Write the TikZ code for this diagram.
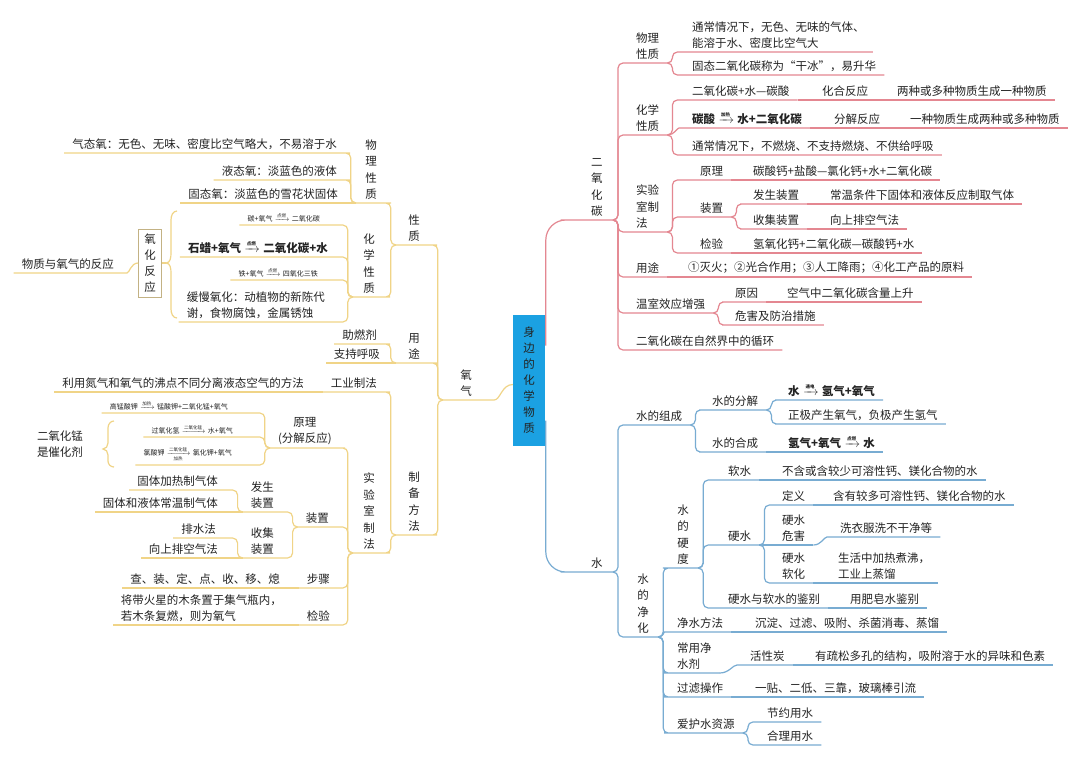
\documentclass[tikz,border=0pt]{standalone}
\usepackage{amsmath}
\usepackage{fontspec}
\setmainfont{Noto Sans CJK SC}
\usepackage{xcolor}
\definecolor{RootBlue}{RGB}{27,161,226}
\definecolor{OxyLine}{RGB}{240,212,135}
\definecolor{CoLine}{RGB}{228,135,145}
\definecolor{WaterLine}{RGB}{120,172,210}
\definecolor{InkGray}{RGB}{35,35,35}
\newcommand{\condfont}{\fontsize{4.5}{4.5}\selectfont}
\newcommand{\cond}[1]{$\;\xrightarrow{\text{\condfont #1}}\;$}
\newcommand{\condd}[2]{$\;\xrightarrow[\text{\condfont #2}]{\text{\condfont #1}}\;$}

\begin{document}
\begin{tikzpicture}[
x=1pt,y=-1pt,
topic/.style={inner xsep=8pt,inner ysep=3pt,text=InkGray,
font=\fontsize{11.5}{16.5}\selectfont},
rtopic/.style={topic,anchor=south west,align=left},
ltopic/.style={topic,anchor=south east,align=left},
vtopic/.style={topic,anchor=south,align=center,inner xsep=0pt},
smalleq/.style={font=\fontsize{7}{8}\selectfont},
boldeq/.style={font=\fontsize{11.5}{14}\selectfont\bfseries},
rootbox/.style={fill=RootBlue,minimum width=32pt,minimum height=131pt,inner sep=0pt,
align=center,text=InkGray,font=\fontsize{11.5}{16}\selectfont},
sumbox/.style={draw=OxyLine!60!gray,line width=0.6pt,minimum width=23pt,minimum height=68pt,
inner sep=1pt,align=center,text=InkGray,font=\fontsize{11.5}{16}\selectfont},
oxyline/.style={draw=OxyLine,line width=1.2pt,rounded corners=5pt},
co2line/.style={draw=CoLine,line width=1.2pt,rounded corners=5pt},
h2oline/.style={draw=WaterLine,line width=1.2pt,rounded corners=5pt}
]
\useasboundingbox[fill=white] (0,0) rectangle (1080,761);

\node[rootbox] (root) at (529,380.5) {身\\边\\的\\化\\学\\物\\质};

% oxygen
\node[vtopic,minimum width=46pt] (oxy) at (466,400) {氧\\气};
\node[vtopic,minimum width=36pt] (oprop) at (414,245) {性\\质};
\node[vtopic,minimum width=36pt] (ouse) at (414,363) {用\\途};
\node[vtopic,minimum width=36pt] (omake) at (414,535) {制\\备\\方\\法};
\node[vtopic,minimum width=30pt] (ophys) at (371,203) {物\\理\\性\\质};
\node[vtopic,minimum width=32pt] (ochem) at (369,297) {化\\学\\性\\质};
\node[ltopic] (ogas) at (345,153) {气态氧：无色、无味、密度比空气略大，不易溶于水};
\node[ltopic] (oliq) at (345,180) {液态氧：淡蓝色的液体};
\node[ltopic] (osol) at (346,203) {固态氧：淡蓝色的雪花状固体};
\node[ltopic,smalleq] (ceq) at (328,225) {碳+氧气\cond{点燃}二氧化碳};
\node[ltopic,boldeq] (weq) at (336,257) {石蜡+氧气\cond{点燃}二氧化碳+水};
\node[ltopic,smalleq] (feq) at (326,280) {铁+氧气\cond{点燃}四氧化三铁};
\node[ltopic] (slow) at (333,322) {缓慢氧化：动植物的新陈代\\谢，食物腐蚀，金属锈蚀};
\node[sumbox] (oxid) at (150,263) {氧\\化\\反\\应};
\node[ltopic] (oreact) at (122,273) {物质与氧气的反应};
\node[ltopic] (ofuel) at (385,344) {助燃剂};
\node[ltopic] (obreath) at (388,363) {支持呼吸};
\node[ltopic] (oind) at (385,392) {工业制法};
\node[ltopic] (oair) at (312,392) {利用氮气和氧气的沸点不同分离液态空气的方法};
\node[vtopic,minimum width=32pt] (olab) at (369,553) {实\\验\\室\\制\\法};
\node[ltopic,align=center] (oprin) at (340,448) {原理\\(分解反应)};
\node[ltopic,smalleq] (kmno) at (236,413) {高锰酸钾\cond{加热}锰酸钾+二氧化锰+氧气};
\node[ltopic,smalleq] (hoo) at (241,437) {过氧化氢\cond{二氧化锰}水+氧气};
\node[ltopic,smalleq] (kclo) at (240,465) {氯酸钾\condd{二氧化锰}{加热}氯化钾+氧气};
\node[topic,align=left] (mno) at (60,444) {二氧化锰\\是催化剂};
\node[ltopic] (odev) at (337,527) {装置};
\node[ltopic,align=center] (ogen) at (282,512) {发生\\装置};
\node[ltopic] (oheat) at (226,490) {固体加热制气体};
\node[ltopic] (oroom) at (226,512) {固体和液体常温制气体};
\node[ltopic,align=center] (ocol) at (282,558) {收集\\装置};
\node[ltopic] (owater) at (224,538) {排水法};
\node[ltopic] (oup) at (226,558) {向上排空气法};
\node[ltopic] (ostep) at (338,588) {步骤};
\node[ltopic] (osteps) at (288,588) {查、装、定、点、收、移、熄};
\node[ltopic] (otest) at (338,625) {检验};
\node[ltopic] (otests) at (290,625) {将带火星的木条置于集气瓶内，\\若木条复燃，则为氧气};

\draw[oxyline] ([yshift=-4pt]root.west) to[out=180,in=0] (oxy.south east) -- (oxy.south west);
\draw[oxyline] (oxy.south west) -- ++(-5,0) |- (oprop.south east) -- (oprop.south west);
\draw[oxyline] (oxy.south west) -- ++(-5,0) |- (ouse.south east) -- (ouse.south west);
\draw[oxyline] (oxy.south west) -- ++(-5,0) |- (omake.south east) -- (omake.south west);
\draw[oxyline] (oprop.south west) -- ++(-5,0) |- (ophys.south east) -- (ophys.south west);
\draw[oxyline] (oprop.south west) -- ++(-5,0) |- (ochem.south east) -- (ochem.south west);
\draw[oxyline] (ophys.south west) -- ++(-5,0) |- (ogas.south east) -- (ogas.south west);
\draw[oxyline] (ophys.south west) -- ++(-5,0) |- (oliq.south east) -- (oliq.south west);
\draw[oxyline] (ophys.south west) -- (osol.south west);
\draw[oxyline] (ochem.south west) -- ++(-5,0) |- (ceq.south east) -- (ceq.south west);
\draw[oxyline] (ochem.south west) -- ++(-5,0) |- (weq.south east) -- (weq.south west);
\draw[oxyline] (ochem.south west) -- ++(-5,0) |- (feq.south east) -- (feq.south west);
\draw[oxyline] (ochem.south west) -- ++(-5,0) |- (slow.south east) -- (slow.south west);
\draw[oxyline,sharp corners] (177,211) to[out=180,in=90] (171,220) -- (171,253)
  to[out=-90,in=0] (166,263) coordinate (bracea) to[out=0,in=90] (171,273) -- (171,309)
  to[out=-90,in=180] (177,318);
\draw[oxyline] (bracea) -- (oxid.east);
\draw[oxyline] (oxid.west) to[out=180,in=0] (oreact.south east) -- (oreact.south west);
\draw[oxyline] (ouse.south west) -- ++(-5,0) |- (ofuel.south east) -- (ofuel.south west);
\draw[oxyline] (ouse.south west) -- (obreath.south west);
\draw[oxyline] (omake.south west) -- ++(-5,0) |- (oind.south east) -- (oind.south west);
\draw[oxyline] (oind.south west) -- (oair.south west);
\draw[oxyline] (omake.south west) -- ++(-5,0) |- (olab.south east) -- (olab.south west);
\draw[oxyline] (olab.south west) -- ++(-5,0) |- (oprin.south east) -- (oprin.south west);
\draw[oxyline] (oprin.south west) -- ++(-5,0) |- (kmno.south east) -- (kmno.south west);
\draw[oxyline] (oprin.south west) -- ++(-5,0) |- (hoo.south east) -- (hoo.south west);
\draw[oxyline] (oprin.south west) -- ++(-5,0) |- (kclo.south east) -- (kclo.south west);
\draw[oxyline,sharp corners] (114,421) to[out=180,in=90] (108,428) -- (108,443)
  to[out=-90,in=0] (103,449) to[out=0,in=90] (108,455) -- (108,461)
  to[out=-90,in=180] (114,467);
\draw[oxyline] (olab.south west) -- ++(-5,0) |- (odev.south east) -- (odev.south west);
\draw[oxyline] (odev.south west) -- ++(-5,0) |- (ogen.south east) -- (ogen.south west);
\draw[oxyline] (ogen.south west) -- ++(-5,0) |- (oheat.south east) -- (oheat.south west);
\draw[oxyline] (ogen.south west) -- (oroom.south west);
\draw[oxyline] (odev.south west) -- ++(-5,0) |- (ocol.south east) -- (ocol.south west);
\draw[oxyline] (ocol.south west) -- ++(-5,0) |- (owater.south east) -- (owater.south west);
\draw[oxyline] (ocol.south west) -- (oup.south west);
\draw[oxyline] (olab.south west) -- ++(-5,0) |- (ostep.south east) -- (ostep.south west);
\draw[oxyline] (ostep.south west) -- (osteps.south west);
\draw[oxyline] (olab.south west) -- ++(-5,0) |- (otest.south east) -- (otest.south west);
\draw[oxyline] (otest.south west) -- (otests.south west);

% carbon dioxide
\node[vtopic,anchor=south east,minimum width=32pt] (co2) at (613,220) {二\\氧\\化\\碳};
\node[rtopic] (cphys) at (628,63) {物理\\性质};
\node[rtopic] (cphys1) at (684,52) {通常情况下，无色、无味的气体、\\能溶于水、密度比空气大};
\node[rtopic] (cphys2) at (684,75) {固态二氧化碳称为“干冰”，易升华};
\node[rtopic] (cchem) at (628,135) {化学\\性质};
\node[rtopic] (cacid) at (684,100) {二氧化碳+水—碳酸};
\node[rtopic] (ccomb) at (814,100) {化合反应};
\node[rtopic] (ccomb1) at (889,100) {两种或多种物质生成一种物质};
\node[rtopic,boldeq] (cdec) at (684,128) {碳酸\cond{加热}水+二氧化碳};
\node[rtopic] (cdecm) at (826,128) {分解反应};
\node[rtopic] (cdecm1) at (902,128) {一种物质生成两种或多种物质};
\node[rtopic] (cnot) at (684,155) {通常情况下，不燃烧、不支持燃烧、不供给呼吸};
\node[rtopic] (clab) at (628,232) {实验\\室制\\法};
\node[rtopic] (cprin) at (692,180) {原理};
\node[rtopic] (cprin1) at (745,180) {碳酸钙+盐酸—氯化钙+水+二氧化碳};
\node[rtopic] (cdev) at (692,217) {装置};
\node[rtopic] (cgen) at (745,204) {发生装置};
\node[rtopic] (cgen1) at (822,204) {常温条件下固体和液体反应制取气体};
\node[rtopic] (ccol) at (745,229) {收集装置};
\node[rtopic] (ccol1) at (822,229) {向上排空气法};
\node[rtopic] (ctest) at (692,253) {检验};
\node[rtopic] (ctest1) at (745,253) {氢氧化钙+二氧化碳—碳酸钙+水};
\node[rtopic] (cuse) at (628,277) {用途};
\node[rtopic] (cuse1) at (680,277) {①灭火；②光合作用；③人工降雨；④化工产品的原料};
\node[rtopic] (cgreen) at (628,313) {温室效应增强};
\node[rtopic] (ccause) at (727,302) {原因};
\node[rtopic] (ccause1) at (779,302) {空气中二氧化碳含量上升};
\node[rtopic] (charm) at (727,325) {危害及防治措施};
\node[rtopic] (ccycle) at (628,350) {二氧化碳在自然界中的循环};

\draw[co2line,rounded corners=20pt] ([xshift=0.6pt,yshift=35pt]root.east) |- (co2.south west) -- (co2.south east);
\draw[co2line] (co2.south east) -- ++(5,0) |- (cphys.south west) -- (cphys.south east);
\draw[co2line] (co2.south east) -- ++(5,0) |- (cchem.south west) -- (cchem.south east);
\draw[co2line] (co2.south east) -- ++(5,0) |- (clab.south west) -- (clab.south east);
\draw[co2line] (co2.south east) -- ++(5,0) |- (cuse.south west) -- (cuse.south east);
\draw[co2line] (co2.south east) -- ++(5,0) |- (cgreen.south west) -- (cgreen.south east);
\draw[co2line] (co2.south east) -- ++(5,0) |- (ccycle.south west) -- (ccycle.south east);
\draw[co2line] (cphys.south east) -- ++(5,0) |- (cphys1.south west) -- (cphys1.south east);
\draw[co2line] (cphys.south east) -- ++(5,0) |- (cphys2.south west) -- (cphys2.south east);
\draw[co2line] (cchem.south east) -- ++(5,0) |- (cacid.south west) -- (cacid.south east);
\draw[co2line] (cacid.south east) -- (ccomb.south east);
\draw[co2line] (ccomb.south east) -- (ccomb1.south east);
\draw[co2line] (cchem.south east) to[out=0,in=180] (cdec.south west) -- (cdec.south east);
\draw[co2line] (cdec.south east) -- (cdecm.south east);
\draw[co2line] (cdecm.south east) -- (cdecm1.south east);
\draw[co2line] (cchem.south east) -- ++(5,0) |- (cnot.south west) -- (cnot.south east);
\draw[co2line] (clab.south east) -- ++(5,0) |- (cprin.south west) -- (cprin.south east);
\draw[co2line] (cprin.south east) -- (cprin1.south east);
\draw[co2line] (clab.south east) -- ++(5,0) |- (cdev.south west) -- (cdev.south east);
\draw[co2line] (cdev.south east) -- ++(5,0) |- (cgen.south west) -- (cgen.south east);
\draw[co2line] (cgen.south east) -- (cgen1.south east);
\draw[co2line] (cdev.south east) -- ++(5,0) |- (ccol.south west) -- (ccol.south east);
\draw[co2line] (ccol.south east) -- (ccol1.south east);
\draw[co2line] (clab.south east) -- ++(5,0) |- (ctest.south west) -- (ctest.south east);
\draw[co2line] (ctest.south east) -- (ctest1.south east);
\draw[co2line] (cuse.south east) -- (cuse1.south east);
\draw[co2line] (cgreen.south east) -- ++(5,0) |- (ccause.south west) -- (ccause.south east);
\draw[co2line] (ccause.south east) -- (ccause1.south east);
\draw[co2line] (cgreen.south east) -- ++(5,0) |- (charm.south west) -- (charm.south east);

% water
\node[vtopic,anchor=south east,minimum width=32pt] (h2o) at (613,572) {水};
\node[rtopic] (wcomp) at (628,425) {水的组成};
\node[rtopic] (wsplit) at (704,410) {水的分解};
\node[rtopic,boldeq] (wsplit1) at (780,400) {水\cond{通电}氢气+氧气};
\node[rtopic] (wsplit2) at (780,424) {正极产生氧气，负极产生氢气};
\node[rtopic] (wform) at (704,452) {水的合成};
\node[rtopic,boldeq] (wform1) at (780,452) {氢气+氧气\cond{点燃}水};
\node[vtopic,minimum width=30pt] (wpure) at (643,637) {水\\的\\净\\化};
\node[vtopic,minimum width=30pt] (whard) at (683,568) {水\\的\\硬\\度};
\node[rtopic] (wsoft) at (720,480) {软水};
\node[rtopic] (wsoft1) at (774,480) {不含或含较少可溶性钙、镁化合物的水};
\node[rtopic] (whw) at (720,545) {硬水};
\node[rtopic] (wdef) at (774,505) {定义};
\node[rtopic] (wdef1) at (825,505) {含有较多可溶性钙、镁化合物的水};
\node[rtopic] (wharm) at (774,545) {硬水\\危害};
\node[rtopic] (wharm1) at (832,537) {洗衣服洗不干净等};
\node[rtopic] (wsoften) at (774,583) {硬水\\软化};
\node[rtopic] (wsoften1) at (830,583) {生活中加热煮沸，\\工业上蒸馏};
\node[rtopic] (wtell) at (720,608) {硬水与软水的鉴别};
\node[rtopic] (wtell1) at (842,608) {用肥皂水鉴别};
\node[rtopic] (wmeth) at (669,632) {净水方法};
\node[rtopic] (wmeth1) at (747,632) {沉淀、过滤、吸附、杀菌消毒、蒸馏};
\node[rtopic] (wagent) at (669,673) {常用净\\水剂};
\node[rtopic] (wcarbon) at (742,665) {活性炭};
\node[rtopic] (wcarbon1) at (807,665) {有疏松多孔的结构，吸附溶于水的异味和色素};
\node[rtopic] (wfilt) at (669,697) {过滤操作};
\node[rtopic] (wfilt1) at (747,697) {一贴、二低、三靠，玻璃棒引流};
\node[rtopic] (wcare) at (669,733) {爱护水资源};
\node[rtopic] (wsave) at (759,722) {节约用水};
\node[rtopic] (wreas) at (759,745) {合理用水};

\draw[h2oline,rounded corners=20pt] ([xshift=0.6pt,yshift=-40pt]root.east) |- (h2o.south west) -- (h2o.south east);
\draw[h2oline] (h2o.south east) -- ++(5,0) |- (wcomp.south west) -- (wcomp.south east);
\draw[h2oline] (h2o.south east) -- ++(5,0) |- (wpure.south west) -- (wpure.south east);
\draw[h2oline] (wcomp.south east) -- ++(5,0) |- (wsplit.south west) -- (wsplit.south east);
\draw[h2oline] (wsplit.south east) -- ++(5,0) |- (wsplit1.south west) -- (wsplit1.south east);
\draw[h2oline] (wsplit.south east) -- ++(5,0) |- (wsplit2.south west) -- (wsplit2.south east);
\draw[h2oline] (wcomp.south east) -- ++(5,0) |- (wform.south west) -- (wform.south east);
\draw[h2oline] (wform.south east) -- (wform1.south east);
\draw[h2oline] (wpure.south east) -- ++(5,0) |- (whard.south west) -- (whard.south east);
\draw[h2oline] (whard.south east) -- ++(5,0) |- (wsoft.south west) -- (wsoft.south east);
\draw[h2oline] (wsoft.south east) -- (wsoft1.south east);
\draw[h2oline] (whard.south east) -- ++(5,0) |- (whw.south west) -- (whw.south east);
\draw[h2oline] (whw.south east) -- ++(5,0) |- (wdef.south west) -- (wdef.south east);
\draw[h2oline] (wdef.south east) -- (wdef1.south east);
\draw[h2oline] (whw.south east) -- (wharm.south east);
\draw[h2oline] (wharm.south east) to[out=0,in=180] (wharm1.south west) -- (wharm1.south east);
\draw[h2oline] (whw.south east) -- ++(5,0) |- (wsoften.south west) -- (wsoften.south east);
\draw[h2oline] (wsoften.south east) -- (wsoften1.south east);
\draw[h2oline] (whard.south east) -- ++(5,0) |- (wtell.south west) -- (wtell.south east);
\draw[h2oline] (wtell.south east) -- (wtell1.south east);
\draw[h2oline] (wpure.south east) to[out=0,in=180] (wmeth.south west) -- (wmeth.south east);
\draw[h2oline] (wmeth.south east) -- (wmeth1.south east);
\draw[h2oline] (wpure.south east) -- ++(5,0) |- (wagent.south west) -- (wagent.south east);
\draw[h2oline] (wagent.south east) to[out=0,in=180] (wcarbon.south west) -- (wcarbon.south east);
\draw[h2oline] (wcarbon.south east) -- (wcarbon1.south east);
\draw[h2oline] (wpure.south east) -- ++(5,0) |- (wfilt.south west) -- (wfilt.south east);
\draw[h2oline] (wfilt.south east) -- (wfilt1.south east);
\draw[h2oline] (wpure.south east) -- ++(5,0) |- (wcare.south west) -- (wcare.south east);
\draw[h2oline] (wcare.south east) -- ++(5,0) |- (wsave.south west) -- (wsave.south east);
\draw[h2oline] (wcare.south east) -- ++(5,0) |- (wreas.south west) -- (wreas.south east);
\end{tikzpicture}
\end{document}
